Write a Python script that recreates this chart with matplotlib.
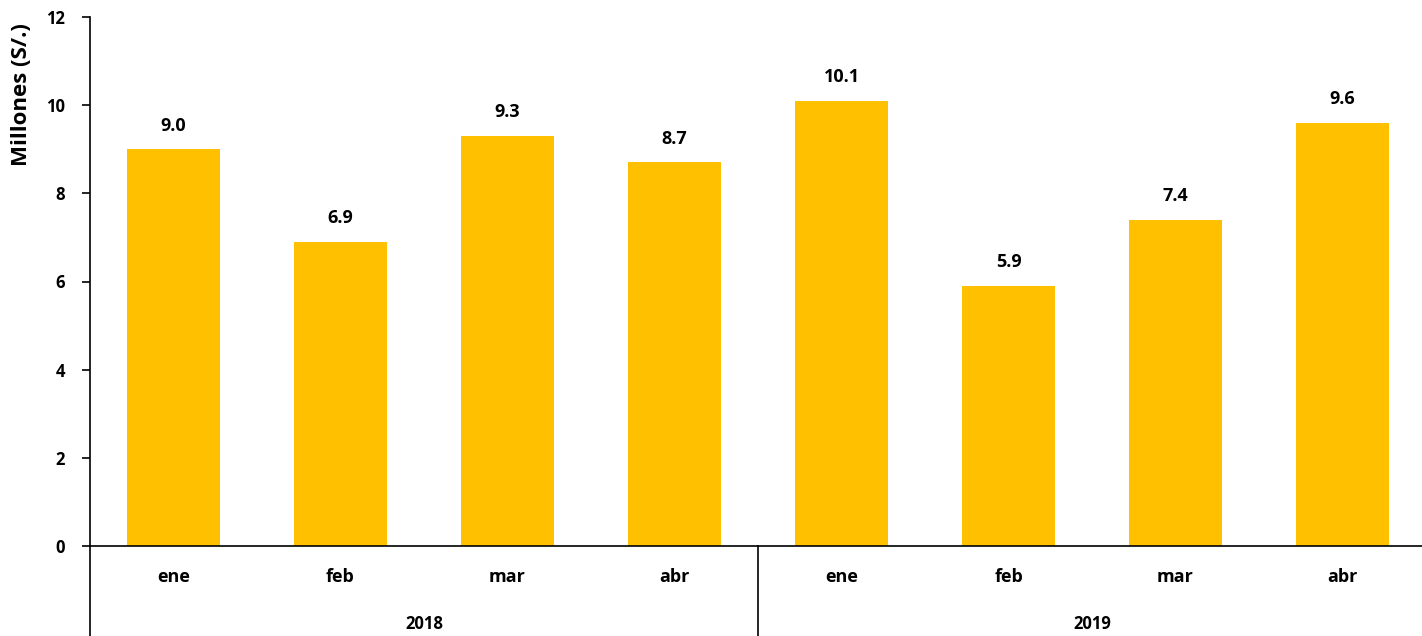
import matplotlib.pyplot as plt
import numpy as np

# datos
meses = ['ene', 'feb', 'mar', 'abr', 'ene', 'feb', 'mar', 'abr']
anios = ['2018', '2019']
valores = [9.0, 6.9, 9.3, 8.7, 10.1, 5.9, 7.4, 9.6]

plt.rcParams['font.family'] = ['Open Sans', 'DejaVu Sans']

fig = plt.figure(figsize=(14.22, 6.36), dpi=100)
W, H = 1422, 636
ax = fig.add_axes([90 / W, 90 / H, 1336 / W, 529 / H])

x = np.arange(len(valores))
bars = ax.bar(x, valores, width=0.555, color='#FFC000', zorder=2)

for xi, v in zip(x, valores):
    ax.annotate(f'{v:.1f}', (xi, v), xytext=(0, 17), textcoords='offset points',
                ha='center', va='center', fontsize=13, fontweight='bold')

ax.set_xlim(-0.5, len(valores) - 0.5)
ax.set_ylim(0, 12)
ax.set_yticks(range(0, 13, 2))
ax.tick_params(axis='y', length=6, width=1.2, labelsize=12, pad=12)
for lb in ax.get_yticklabels():
    lb.set_fontweight('bold')

ax.set_xticks(x)
ax.set_xticklabels(meses, fontsize=13, fontweight='bold')
ax.tick_params(axis='x', length=0, pad=16)

ax.spines['top'].set_visible(False)
ax.spines['right'].set_visible(False)
ax.spines['bottom'].set_linewidth(1.2)
ax.spines['left'].set_linewidth(1.2)

ax.set_ylabel('Millones (S/.)', fontsize=16, fontweight='bold')
ax.yaxis.set_label_coords(-58 / 1336, 0.853)

# lineas de grupo bajo el eje
trans = ax.get_xaxis_transform()
for sep in [-0.5, 3.5, 7.5]:
    ax.plot([sep, sep], [0, -0.2], color='black', lw=1.2, transform=trans, clip_on=False)
for i, a in enumerate(anios):
    ax.text(1.5 + 4 * i, -0.148, a, transform=trans, ha='center', va='center',
            fontsize=12, fontweight='bold')

fig.savefig('out.png', dpi=100)
